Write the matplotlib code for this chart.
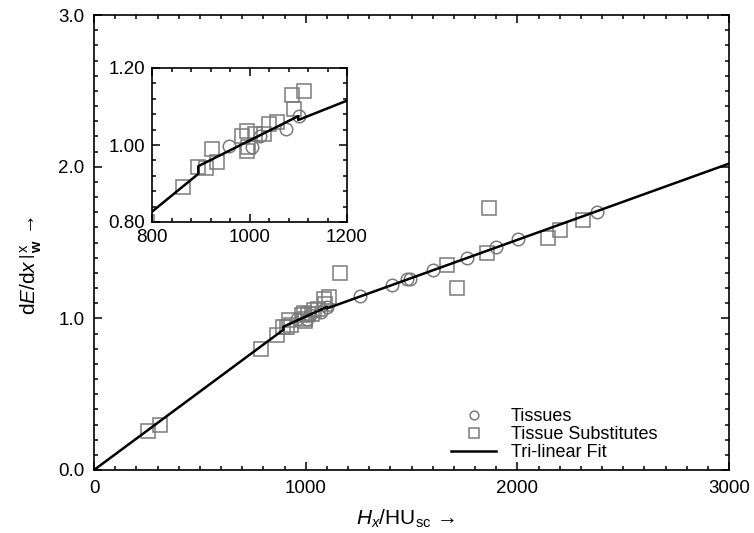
import matplotlib
matplotlib.use("Agg")
import matplotlib.pyplot as plt
from matplotlib.ticker import MultipleLocator

plt.rcParams['font.family'] = ['Liberation Sans', 'DejaVu Sans']
plt.rcParams['mathtext.fontset'] = 'custom'
plt.rcParams['mathtext.rm'] = 'Liberation Sans'
plt.rcParams['mathtext.it'] = 'Liberation Sans:italic'
plt.rcParams['mathtext.bf'] = 'Liberation Sans:bold'

# ---- data ----
tissues_x = [957, 1005, 1022, 1074, 1101, 1256, 1408, 1478, 1495, 1601, 1762, 1899, 2003, 2376]
tissues_y = [0.998, 0.994, 1.024, 1.041, 1.076, 1.15, 1.22, 1.26, 1.26, 1.32, 1.40, 1.47, 1.52, 1.70]

subs_x = [255, 312, 789, 864, 894, 911, 933, 923, 985, 994, 996, 995, 1012, 1029, 1039, 1056,
          1087, 1111, 1091, 1160, 1667, 1715, 1856, 1866, 2145, 2201, 2310]
subs_y = [0.26, 0.30, 0.80, 0.892, 0.944, 0.941, 0.955, 0.99, 1.024, 1.037, 0.994, 0.985, 1.028,
          1.028, 1.054, 1.059, 1.129, 1.139, 1.093, 1.30, 1.35, 1.20, 1.43, 1.73, 1.53, 1.58, 1.65]

fit_x = [0, 895, 895, 1100, 1100, 3000]
fit_y = [0.0, 0.925, 0.945, 1.075, 1.065, 2.02]

xlim_main = (0, 3000)
ylim_main = (0.0, 3.0)
xlim_inset = (800, 1200)
ylim_inset = (0.80, 1.20)

gray = '#7a7a7a'

fig = plt.figure(figsize=(7.54, 5.33), dpi=100)
ax = fig.add_axes([94/754, 1 - 470/533, (729-94)/754, (470-15)/533])


def draw(a):
    a.plot(tissues_x, tissues_y, linestyle='none', marker='o', markersize=9,
           markerfacecolor='none', markeredgecolor=gray, markeredgewidth=1.1, label='Tissues')
    a.plot(subs_x, subs_y, linestyle='none', marker='s', markersize=9.5,
           markerfacecolor='none', markeredgecolor=gray, markeredgewidth=1.1, label='Tissue Substitutes')
    a.plot(fit_x, fit_y, color='black', linewidth=1.8, label='Tri-linear Fit')


def style(a, fs):
    a.tick_params(which='both', direction='in', top=True, right=True, labelsize=fs, width=1.1)
    a.tick_params(which='major', length=6, pad=7)
    a.tick_params(which='minor', length=3)
    for s in a.spines.values():
        s.set_linewidth(1.2)


draw(ax)
ax.set_xlim(*xlim_main)
ax.set_ylim(*ylim_main)
ax.xaxis.set_major_locator(MultipleLocator(1000))
ax.xaxis.set_minor_locator(MultipleLocator(100))
ax.yaxis.set_major_locator(MultipleLocator(1.0))
ax.yaxis.set_minor_locator(MultipleLocator(0.1))
ax.yaxis.set_major_formatter(matplotlib.ticker.FormatStrFormatter('%.1f'))
style(ax, 13.5)
ax.set_xlabel(r'$H_x/\mathrm{HU}_{\mathrm{sc}}$ →', fontsize=15)
ax.xaxis.set_label_coords(0.49, -0.083)
ax.set_ylabel(r'$\left.\mathrm{d}E/\mathrm{d}x\,\right|^{\,\mathrm{x}}_{\,\mathbf{w}}$ →', fontsize=15)
ax.yaxis.set_label_coords(-0.078, 0.45)

leg = ax.legend(loc='lower left', bbox_to_anchor=(0.548, 0.0), frameon=False, fontsize=13,
                handlelength=2.5, handletextpad=0.8, labelspacing=0.05, markerscale=0.7,
                borderpad=0.0)

ins = fig.add_axes([152/754, 1 - 222/533, (347-152)/754, (222-68)/533])
draw(ins)
ins.set_xlim(*xlim_inset)
ins.set_ylim(*ylim_inset)
ins.xaxis.set_major_locator(MultipleLocator(200))
ins.xaxis.set_minor_locator(MultipleLocator(40))
ins.yaxis.set_major_locator(MultipleLocator(0.2))
ins.yaxis.set_minor_locator(MultipleLocator(0.04))
ins.yaxis.set_major_formatter(matplotlib.ticker.FormatStrFormatter('%.2f'))
style(ins, 13.5)
ins.tick_params(which='major', pad=5)

fig.savefig('out.png', dpi=100)
